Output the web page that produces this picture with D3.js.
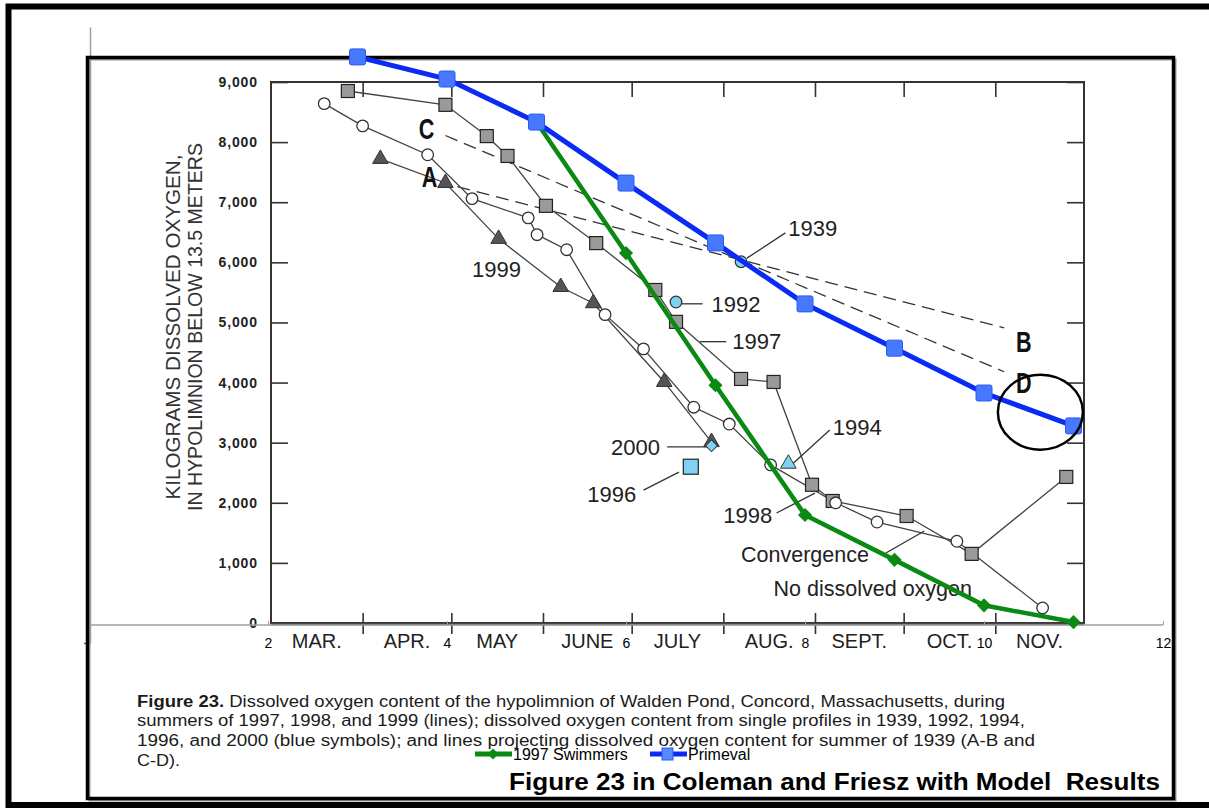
<!DOCTYPE html>
<html><head><meta charset="utf-8">
<script src="https://cdn.jsdelivr.net/npm/d3@7"></script>
<style>
html,body{margin:0;padding:0;background:#fff;}
svg{display:block;}
text{font-family:"Liberation Sans",Arial,Helvetica,sans-serif;}
</style></head><body>
<svg id="chart" width="1209" height="808"></svg>
<script>
// ---------- Overlay: model results (x = month number) ----------
const overlayTicks = [2, 4, 6, 8, 10, 12];
const primevalMonths = [3, 4, 5, 6, 7, 8, 9, 10, 11];
const primevalValues = [9500, 9130, 8410, 7390, 6390, 5370, 4630, 3880, 3330];
const swimmerMonths = [5, 6, 7, 8, 9, 10, 11];
const swimmerValues = [8410, 6220, 4010, 1840, 1090, 330, 50];
const legendNames = ["1997 Swimmers", "Primeval"];

// ---------- Scanned Figure 23 (Coleman and Friesz) ----------
const monthLabels = ["MAR.", "APR.", "MAY", "JUNE", "JULY", "AUG.", "SEPT.", "OCT.", "NOV."];
const monthStarts = ["03-01", "04-01", "05-01", "06-01", "07-01", "08-01", "09-01", "10-01", "11-01", "12-01"];
const yTicks = [0, 1000, 2000, 3000, 4000, 5000, 6000, 7000, 8000, 9000];

const dates1997 = ["03-27", "04-29", "05-13", "05-20", "06-02", "06-19", "07-09", "07-16", "08-07", "08-18", "08-31", "09-07", "10-02", "10-24", "11-25"];
const values1997 = [8850, 8620, 8100, 7770, 6940, 6320, 5540, 5010, 4060, 4010, 2300, 2030, 1780, 1150, 2430];

const dates1998 = ["03-19", "04-01", "04-23", "05-08", "05-27", "05-30", "06-09", "06-22", "07-05", "07-22", "08-03", "08-17", "09-08", "09-22", "10-19", "11-17"];
const values1998 = [8640, 8270, 7790, 7060, 6740, 6460, 6210, 5130, 4560, 3590, 3310, 2630, 2000, 1680, 1360, 250];

const dates1999 = ["04-07", "04-29", "05-17", "06-07", "06-18", "07-12", "07-28"];
const values1999 = [7720, 7320, 6390, 5590, 5320, 4010, 3010];

const singleYears = ["1939", "1992", "1994", "1996", "2000"];
const singleDates = ["08-07", "07-16", "08-23", "07-21", "07-28"];
const singleValues = [6010, 5340, 2650, 2600, 2950];
const singleShapes = ["circle", "circle", "triangle", "square", "diamond"];

const projNames = ["A-B", "C-D"];
const projDates = [["05-03", "11-04"], ["04-29", "11-04"]];
const projValues = [[7260, 4910], [8110, 4180]];

const noteTexts = ["1939", "1992", "1997", "1994", "2000", "1996", "1999", "1998", "Convergence", "No dissolved oxygen"];
const noteDates = ["08-23", "07-28", "08-04", "09-07", "06-24", "06-16", "05-08", "08-01", "08-07", "08-18"];
const noteValues = [6440, 5180, 4560, 3120, 2800, 2010, 5750, 1660, 1020, 450];

const letterTexts = ["C", "A", "B", "D"];
const letterDates = ["04-20", "04-21", "11-08", "11-08"];
const letterValues = [8050, 7250, 4510, 3820];

const leaderFromDates = ["08-09", "07-17", "07-24", "08-24", "07-13", "07-05", "08-19", "09-25"];
const leaderFromValues = [6070, 5310, 4680, 2630, 2930, 2210, 1830, 1165];
const leaderToDates = ["08-22", "07-25", "08-02", "09-06", "07-27", "07-17", "09-01", "10-08"];
const leaderToValues = [6490, 5310, 4680, 3210, 2930, 2510, 2160, 1530];

const captionLines = [
  ["Figure 23.", " Dissolved oxygen content of the hypolimnion of Walden Pond, Concord, Massachusetts, during"],
  ["", "summers of 1997, 1998, and 1999 (lines); dissolved oxygen content from single profiles in 1939, 1992, 1994,"],
  ["", "1996, and 2000 (blue symbols); and lines projecting dissolved oxygen content for summer of 1939 (A-B and"],
  ["", "C-D)."]
];
const captionWidths = [868, 888, 898, 43];
const titleText = "Figure 23 in Coleman and Friesz with Model  Results";
const yTitleLines = ["KILOGRAMS DISSOLVED OXYGEN,", "IN HYPOLIMNION BELOW 13.5 METERS"];

// ---------- drawing ----------
const svg = d3.select("#chart");
svg.append("rect").attr("width", 1209).attr("height", 808).attr("fill", "#fff");

const parse = d3.utcParse("%m-%d");
const xS = d3.scaleUtc().domain([parse("03-01"), parse("12-01")]).range([271, 1084]);
const yS = d3.scaleLinear().domain([0, 9000]).range([623, 82]);
const ink = "#222";

const fig = svg.append("g");

// axes of the scanned figure
const leftAx = fig.append("g").attr("transform", `translate(${xS.range()[0]},0)`)
  .call(d3.axisLeft(yS).tickValues(yTicks).tickSize(-17).tickPadding(13).tickFormat(d3.format(",")));
leftAx.select(".domain").remove();
leftAx.selectAll("line").attr("stroke", "#333").attr("stroke-width", 1.6);
leftAx.selectAll("text").attr("font-size", 14).attr("font-weight", "bold").attr("letter-spacing", 0.9).attr("fill", ink);

const rightAx = fig.append("g").attr("transform", `translate(${xS.range()[1]},0)`)
  .call(d3.axisRight(yS).tickValues(yTicks).tickSize(-17).tickFormat(""));
rightAx.select(".domain").remove();
rightAx.selectAll("line").attr("stroke", "#333").attr("stroke-width", 1.6);

const monthDates = monthStarts.map(parse);
const topAx = fig.append("g").attr("transform", `translate(0,${yS.range()[1]})`)
  .call(d3.axisTop(xS).tickValues(monthDates.slice(1, -1)).tickSize(-15).tickFormat(""));
topAx.select(".domain").remove();
topAx.selectAll("line").attr("stroke", "#333").attr("stroke-width", 1.6);

const botAx = fig.append("g").attr("transform", `translate(0,${yS.range()[0]})`)
  .call(d3.axisBottom(xS).tickValues(monthDates.slice(1, -1)).tickSize(11).tickFormat(""));
botAx.select(".domain").remove();
botAx.selectAll("line").attr("y1", -10).attr("stroke", "#333").attr("stroke-width", 1.6);

fig.append("rect")
  .attr("x", xS.range()[0]).attr("y", yS.range()[1])
  .attr("width", xS.range()[1] - xS.range()[0]).attr("height", yS.range()[0] - yS.range()[1])
  .attr("fill", "none").attr("stroke", "#333").attr("stroke-width", 2);
fig.append("line").attr("x1", xS.range()[0]).attr("x2", xS.range()[1])
  .attr("y1", yS(0) + 1).attr("y2", yS(0) + 1).attr("stroke", "#444").attr("stroke-width", 2.5);

// month labels
fig.selectAll("text.month").data(monthLabels).join("text")
  .attr("x", (d, i) => (xS(monthDates[i]) + xS(monthDates[i + 1])) / 2)
  .attr("y", 648).attr("text-anchor", "middle").attr("font-size", 20).attr("fill", ink).text(d => d);

// y title
yTitleLines.forEach((t, i) => {
  fig.append("text").attr("transform", `translate(${[180, 202][i]},327) rotate(-90)`)
    .attr("text-anchor", "middle").attr("font-size", 20).attr("fill", "#333")
    .attr("textLength", [345, 368][i]).attr("lengthAdjust", "spacingAndGlyphs").text(t);
});

// dashed projections
const lineS = d3.line().x(d => xS(d[0])).y(d => yS(d[1]));
projNames.forEach((n, i) => {
  fig.append("path").attr("d", lineS(projDates[i].map((d, j) => [parse(d), projValues[i][j]])))
    .attr("fill", "none").attr("stroke", "#333").attr("stroke-width", 1.3).attr("stroke-dasharray", "13,7");
});

// series lines
const series = [
  { dates: dates1997, values: values1997, shape: "square" },
  { dates: dates1998, values: values1998, shape: "circle" },
  { dates: dates1999, values: values1999, shape: "triangle" }
];
series.forEach(s => {
  fig.append("path").attr("d", lineS(s.dates.map((d, j) => [parse(d), s.values[j]])))
    .attr("fill", "none").attr("stroke", "#444").attr("stroke-width", 1.3);
});

// leaders
leaderFromDates.forEach((d, i) => {
  fig.append("line")
    .attr("x1", xS(parse(d))).attr("y1", yS(leaderFromValues[i]))
    .attr("x2", xS(parse(leaderToDates[i]))).attr("y2", yS(leaderToValues[i]))
    .attr("stroke", "#333").attr("stroke-width", 1.3);
});

function marker(g, shape, x, y, fill) {
  if (shape === "square") {
    g.append("rect").attr("x", x - 6.5).attr("y", y - 6.5).attr("width", 13).attr("height", 13)
      .attr("fill", fill).attr("stroke", "#222").attr("stroke-width", 1.2);
  } else if (shape === "circle") {
    g.append("circle").attr("cx", x).attr("cy", y).attr("r", 5.8)
      .attr("fill", fill).attr("stroke", "#333").attr("stroke-width", 1.3);
  } else if (shape === "triangle") {
    g.append("path").attr("d", d3.symbol(d3.symbolTriangle, 105)())
      .attr("transform", `translate(${x},${y})`).attr("fill", fill).attr("stroke", "#333").attr("stroke-width", 1);
  } else if (shape === "diamond") {
    g.append("path").attr("d", d3.symbol(d3.symbolSquare, 70)())
      .attr("transform", `translate(${x},${y}) rotate(45)`).attr("fill", fill).attr("stroke", "#333").attr("stroke-width", 1);
  }
}
const seriesFill = { square: "#9a9a9a", circle: "#fff", triangle: "#555" };
series.forEach(s => {
  s.dates.forEach((d, j) => marker(fig, s.shape, xS(parse(d)), yS(s.values[j]), seriesFill[s.shape]));
});
singleDates.forEach((d, i) => {
  const sh = singleShapes[i];
  if (sh === "square") {
    fig.append("rect").attr("x", xS(parse(d)) - 7.5).attr("y", yS(singleValues[i]) - 7.5)
      .attr("width", 15).attr("height", 15).attr("fill", "#7fd3f2").attr("stroke", "#222").attr("stroke-width", 1.2);
  } else {
    marker(fig, sh, xS(parse(d)), yS(singleValues[i]), "#7fd3f2");
  }
});

// notes
noteTexts.forEach((t, i) => {
  fig.append("text").attr("x", xS(parse(noteDates[i]))).attr("y", yS(noteValues[i]))
    .attr("font-size", i < 8 ? 22 : 21.5).attr("fill", ink).text(t);
});
letterTexts.forEach((t, i) => {
  fig.append("text").attr("transform", `translate(${xS(parse(letterDates[i]))},${yS(letterValues[i])}) scale(0.72,1)`)
    .attr("font-size", 30).attr("font-weight", "bold").attr("fill", "#111").text(t);
});

// caption
captionLines.forEach((parts, i) => {
  const t = fig.append("text").attr("x", 137).attr("y", [707, 726, 746, 766][i])
    .attr("font-size", 16).attr("fill", "#1b1b1b")
    .attr("textLength", captionWidths[i]).attr("lengthAdjust", "spacingAndGlyphs");
  if (parts[0]) t.append("tspan").attr("font-weight", "bold").text(parts[0]);
  t.append("tspan").text(parts[1]);
});

// ---------- overlay (model chart) ----------
const xO = d3.scaleLinear().domain([0, 12]).range([89, 1163]);
const yO = d3.scaleLinear().domain([-300, 10000]).range([643, 27]);
const ov = svg.append("g");

const axX = ov.append("g").attr("transform", `translate(0,${yO(0)})`)
  .call(d3.axisBottom(xO).tickValues(overlayTicks).tickSizeInner(-4).tickSizeOuter(0).tickPadding(13).tickFormat(d3.format("d")));
axX.select(".domain").attr("d", `M${xO(0)},0H${xO(12)}`).attr("stroke", "#a0a0a0").attr("stroke-width", 1.5);
axX.selectAll("line").attr("stroke", "#a0a0a0");
axX.selectAll("text").attr("font-size", 14).attr("fill", "#000");

const axY = ov.append("g").attr("transform", `translate(${xO(0) + 1},0)`)
  .call(d3.axisLeft(yO).tickValues([-300]).tickSizeInner(6).tickSizeOuter(0).tickFormat(""));
axY.select(".domain").attr("stroke", "#a0a0a0").attr("stroke-width", 1.5);
axY.selectAll("line").attr("stroke", "#555").attr("stroke-width", 1.5);

// frames
svg.append("rect").attr("x", 89.5).attr("y", 59.5).attr("width", 1086).attr("height", 741)
  .attr("fill", "none").attr("stroke", "#999").attr("stroke-width", 2);
svg.append("rect").attr("x", 87.5).attr("y", 57.5).attr("width", 1086).attr("height", 741)
  .attr("fill", "none").attr("stroke", "#000").attr("stroke-width", 3.5);

// overlay series
const lineO = d3.line().x(d => xO(d[0])).y(d => yO(d[1]));
const green = "#0a8a12", blue = "#0a2af5";
const sg = svg.append("g");
sg.append("path").attr("d", lineO(swimmerMonths.map((m, i) => [m, swimmerValues[i]])))
  .attr("fill", "none").attr("stroke", green).attr("stroke-width", 4.5);
swimmerMonths.forEach((m, i) => {
  sg.append("path").attr("d", d3.symbol(d3.symbolSquare, 100)())
    .attr("transform", `translate(${xO(m)},${yO(swimmerValues[i])}) rotate(45)`).attr("fill", green);
});
sg.append("path").attr("d", lineO(primevalMonths.map((m, i) => [m, primevalValues[i]])))
  .attr("fill", "none").attr("stroke", blue).attr("stroke-width", 5);
primevalMonths.forEach((m, i) => {
  sg.append("rect").attr("x", xO(m) - 8).attr("y", yO(primevalValues[i]) - 8)
    .attr("width", 16).attr("height", 16).attr("rx", 2)
    .attr("fill", "#4679ff").attr("stroke", "#2a5cf0").attr("stroke-width", 1);
});

// annotation ellipse
sg.append("ellipse").attr("cx", xO(10.63)).attr("cy", yO(3560))
  .attr("rx", xO(10.63 + 0.475) - xO(10.63)).attr("ry", yO(3560) - yO(3560 + 627))
  .attr("fill", "none").attr("stroke", "#000").attr("stroke-width", 2.5);

// legend
const lg = svg.append("g");
lg.append("line").attr("x1", 475).attr("x2", 512).attr("y1", 754).attr("y2", 754).attr("stroke", green).attr("stroke-width", 5);
lg.append("path").attr("d", d3.symbol(d3.symbolSquare, 60)()).attr("transform", "translate(493,754) rotate(45)").attr("fill", green);
lg.append("text").attr("x", 513).attr("y", 760).attr("font-size", 16).attr("fill", "#000").text(legendNames[0]);
lg.append("line").attr("x1", 650).attr("x2", 687).attr("y1", 754).attr("y2", 754).attr("stroke", blue).attr("stroke-width", 5);
lg.append("rect").attr("x", 662).attr("y", 748).attr("width", 11).attr("height", 12).attr("fill", "#5a88ff").attr("stroke", "#2a5cf0");
lg.append("text").attr("x", 688).attr("y", 760).attr("font-size", 16).attr("fill", "#000").text(legendNames[1]);

// title
svg.append("text").attr("x", 509).attr("y", 790).attr("font-size", 23).attr("font-weight", "bold")
  .attr("fill", "#000").style("white-space", "pre")
  .attr("textLength", 651).attr("lengthAdjust", "spacingAndGlyphs").text(titleText);

// outer frame
svg.append("rect").attr("x", 8.5).attr("y", 6.5).attr("width", 1215).attr("height", 798.5)
  .attr("fill", "none").attr("stroke", "#000").attr("stroke-width", 6);
</script>
</body></html>
